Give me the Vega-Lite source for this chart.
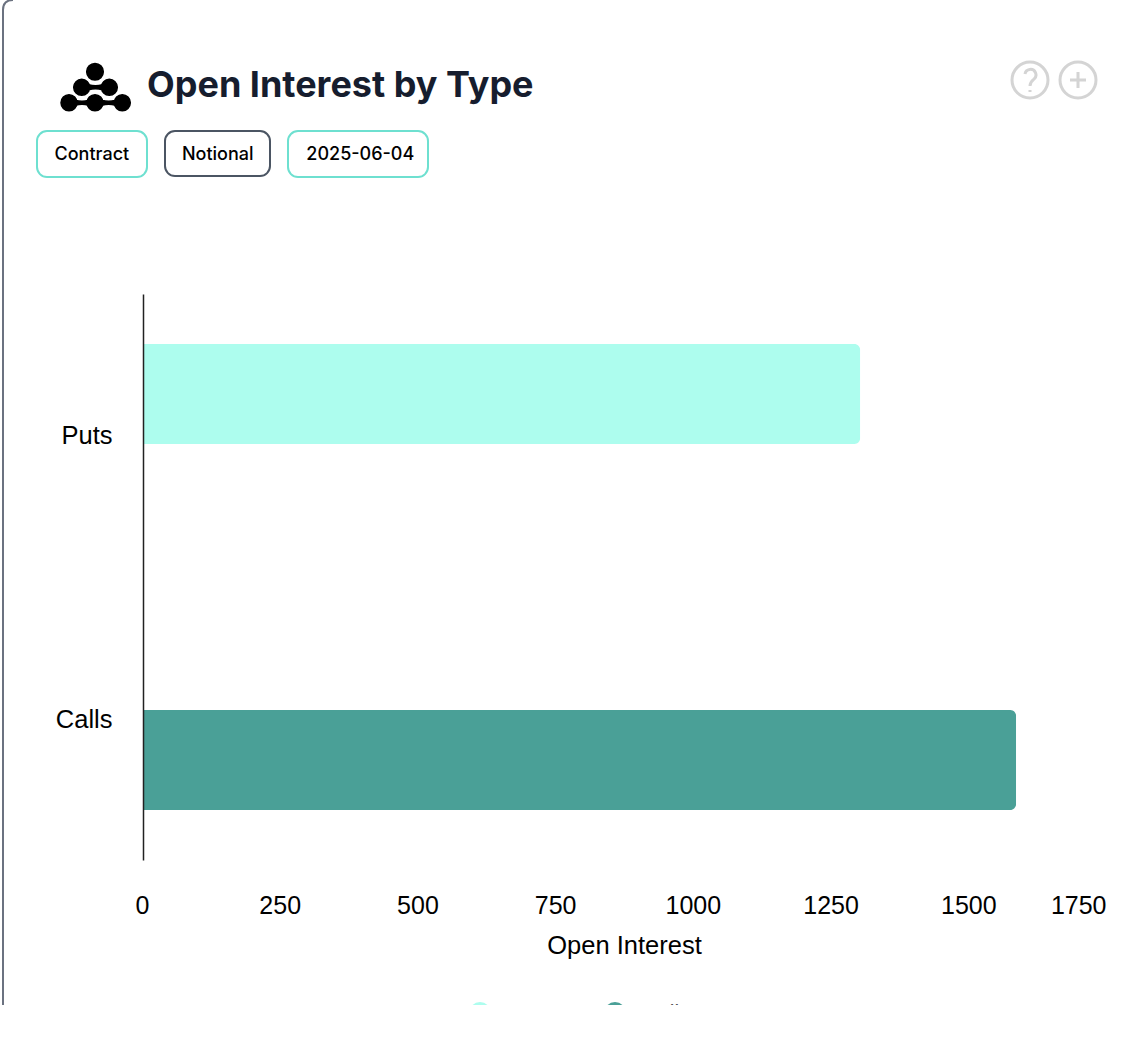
{
"$schema":"https://vega.github.io/schema/vega-lite/v6.json",
"width":964,"height":566,
"autosize":{"type":"none"},
"padding":{"left":143,"top":294,"right":29,"bottom":145},
"background":"white",
"config":{"view":{"stroke":null},"font":"Liberation Sans"},
"title":{"text":"Open Interest by Type","anchor":"start","frame":"group","font":"Inter","fontSize":36,"fontWeight":700,"color":"#161d2e","dx":4,"dy":109,"offset":0},
"layer":[
{"data":{"values":[{"type":"Puts","openInterest":1302},{"type":"Calls","openInterest":1585}]},
"mark":{"type":"bar","cornerRadiusEnd":6},
"encoding":{
"y":{"field":"type","type":"nominal","sort":["Puts","Calls"],
"scale":{"domain":["Puts","Calls"],"paddingInner":0.727,"paddingOuter":0.137},
"axis":{"zindex":1,"title":"Contract\u00a0\u00a0\u00a0\u00a0\u00a0\u00a0\u00a0\u00a0\u00a0\u00a0\u00a0Notional\u00a0\u00a0\u00a0\u00a0\u00a0\u00a0\u00a0\u00a0\u00a0\u00a0\u00a02025-06-04","titleFont":"Inter","titleFontSize":18,"titleFontWeight":500,"titleColor":"#000000","titleAngle":0,"titleAlign":"left","titleBaseline":"middle","titleX":-89,"titleY":-140,
"ticks":false,"grid":false,"domain":true,"domainColor":"#222222","domainWidth":1.5,"labelFontSize":25.5,"labelColor":"#000000","labelPadding":31,"labelOffset":{"expr":"datum.value=='Puts'?42:-40"}}},
"x":{"field":"openInterest","type":"quantitative",
"scale":{"domain":[0,1750],"nice":false},
"axis":{"title":"Open Interest","format":"d","values":[0,250,500,750,1000,1250,1500,1750],"ticks":false,"grid":false,"domain":false,"labelFontSize":25,"labelColor":"#000000","labelPadding":33,"labelOffset":-1,"labelAlign":{"expr":"datum.value==1750?'right':'center'"},"titleFontSize":25.5,"titleFontWeight":"normal","titleColor":"#000000","titlePadding":15,"titleX":481}},
"color":{"field":"type","type":"nominal","scale":{"domain":["Puts","Calls"],"range":["#adfdee","#4aa097"]},
"legend":{"title":null,"orient":"none","legendX":325,"legendY":707,"direction":"horizontal","symbolType":"circle","symbolSize":480,"labelFontSize":21,"labelColor":"#555555","labelOffset":16,"columnPadding":52}}
}},
{"data":{"values":[{"element":"card"},{"element":"contract"},{"element":"notional"},{"element":"date"}]},
"mark":{"type":"point","size":4,"opacity":1,"filled":false,"strokeWidth":2},
"encoding":{
"x":{"datum":0},
"y":{"datum":"Puts"},
"shape":{"field":"element","type":"nominal","legend":null,"scale":{"domain":["card","contract","notional","date","help","add","logo"],"range":[
"M-140,620V-384Q-140,-394,-130,-394",
"M-96,-263H-6A10,10,0,0,1,4,-253V-227A10,10,0,0,1,-6,-217H-96A10,10,0,0,1,-106,-227V-253A10,10,0,0,1,-96,-263Z",
"M32,-263H117A10,10,0,0,1,127,-253V-228A10,10,0,0,1,117,-218H32A10,10,0,0,1,22,-228V-253A10,10,0,0,1,32,-263Z",
"M155,-263H275A10,10,0,0,1,285,-253V-227A10,10,0,0,1,275,-217H155A10,10,0,0,1,145,-227V-253A10,10,0,0,1,155,-263Z",
"M869,-314A18,18,0,1,1,905,-314A18,18,0,1,1,869,-314ZM882,-320A5.5,5.5,0,1,1,891,-315C888.5,-313,887,-312,887,-308M887,-304V-302",
"M917,-314A18,18,0,1,1,953,-314A18,18,0,1,1,917,-314ZM927,-314H943M935,-322V-306",
"M-56.3,-322.3A8.3,8.3,0,1,1,-39.7,-322.3A8.3,8.3,0,1,1,-56.3,-322.3ZM-69.3,-306.7A8,8,0,1,1,-53.3,-306.7A8,8,0,1,1,-69.3,-306.7ZM-41.7,-306.7A8,8,0,1,1,-25.7,-306.7A8,8,0,1,1,-41.7,-306.7ZM-82,-291.3A8,8,0,1,1,-66,-291.3A8,8,0,1,1,-82,-291.3ZM-56,-291.3A8,8,0,1,1,-40,-291.3A8,8,0,1,1,-56,-291.3ZM-28.7,-291.3A8,8,0,1,1,-12.7,-291.3A8,8,0,1,1,-28.7,-291.3ZM-74,-296.9Q-61,-288.7,-48,-296.9V-285.7Q-61,-293.9,-74,-285.7ZM-48,-296.9Q-34.35,-288.7,-20.7,-296.9V-285.7Q-34.35,-293.9,-48,-285.7ZM-61.3,-312.3Q-47.5,-304.1,-33.7,-312.3V-301.1Q-47.5,-309.3,-61.3,-301.1Z"
]}},
"stroke":{"field":"element","type":"nominal","legend":null,"scale":{"domain":["card","contract","notional","date","help","add"],"range":["#6b7280","#6ee0d0","#4b5563","#6ee0d0","#d4d4d4","#d4d4d4"]}}
}},
{"data":{"values":[{"element":"help"},{"element":"add"}]},
"mark":{"type":"point","size":4,"opacity":1,"filled":false,"strokeWidth":3},
"encoding":{
"x":{"datum":0},
"y":{"datum":"Puts"},
"shape":{"field":"element","type":"nominal","legend":null},
"stroke":{"field":"element","type":"nominal","legend":null}
}},
{"data":{"values":[{"element":"logo"}]},
"mark":{"type":"point","size":4,"opacity":1,"filled":true,"fill":"#000000","stroke":"#000000","strokeWidth":1.5},
"encoding":{
"x":{"datum":0},
"y":{"datum":"Puts"},
"shape":{"field":"element","type":"nominal","legend":null}
}}
]
}
